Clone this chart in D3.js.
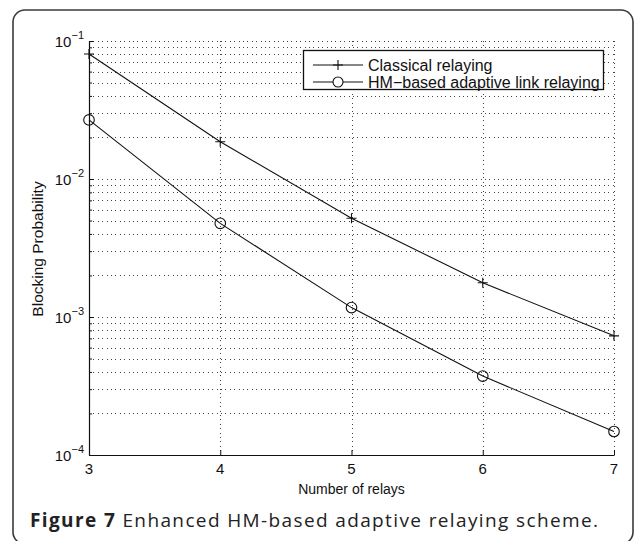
<!DOCTYPE html>
<html>
<head>
<meta charset="utf-8">
<script src="https://cdn.jsdelivr.net/npm/d3@7"></script>
<style>
  body { margin: 0; background: #fff; }
  svg { display: block; }
  text { font-family: "Liberation Sans", Arial, sans-serif; fill: #111; }
</style>
</head>
<body>
<script>
// data
var relays = [3, 4, 5, 6, 7];
var classical = [0.0805, 0.0186, 0.0052, 0.00177, 0.00073];
var hmAdaptive = [0.0268, 0.00477, 0.00117, 0.000373, 0.000148];
var seriesNames = ["Classical relaying", "HM\u2212based adaptive link relaying"];
var yTickExp = [-1, -2, -3, -4];

var width = 635, height = 541;
// plot box
var plotL = 89, plotR = 614, plotT = 41, plotB = 455;

var svg = d3.select("body").append("svg")
  .attr("width", width)
  .attr("height", height);

// rounded frame around the figure
svg.append("rect")
  .attr("x", 13).attr("y", 10)
  .attr("width", 620).attr("height", 534)
  .attr("rx", 12).attr("ry", 12)
  .attr("fill", "none")
  .attr("stroke", "#3a3a3a")
  .attr("stroke-width", 1.6);

var x = d3.scaleLinear().domain([3, 7]).range([plotL, plotR]);
var y = d3.scaleLog().domain([1e-4, 1e-1]).range([plotB, plotT]);

// dotted grid, every log tick and every relay count
var grid = svg.append("g")
  .attr("stroke", "#444")
  .attr("stroke-width", 1)
  .attr("stroke-dasharray", "1,3.4")
  .attr("shape-rendering", "crispEdges");
grid.selectAll("line.h")
  .data(y.ticks())
  .enter().append("line")
  .attr("class", "h")
  .attr("x1", plotL).attr("x2", plotR)
  .attr("y1", function(d) { return Math.round(y(d)) + 0.5; })
  .attr("y2", function(d) { return Math.round(y(d)) + 0.5; });
grid.selectAll("line.v")
  .data(relays)
  .enter().append("line")
  .attr("class", "v")
  .attr("y1", plotT).attr("y2", plotB)
  .attr("x1", function(d) { return Math.round(x(d)) + 0.5; })
  .attr("x2", function(d) { return Math.round(x(d)) + 0.5; });

// axes (left + bottom only, ticks inside like matlab)
function isDecade(d) {
  var l = Math.log10(d);
  return Math.abs(l - Math.round(l)) < 1e-9;
}
var yAxis = svg.append("g")
  .attr("transform", "translate(" + plotL + ",0)")
  .call(d3.axisRight(y).tickValues(y.ticks()).tickFormat("").tickSize(3).tickSizeOuter(0));
yAxis.selectAll(".tick line")
  .attr("x2", function(d) { return isDecade(d) ? 5 : 3; });
var xAxis = svg.append("g")
  .attr("transform", "translate(0," + plotB + ")")
  .call(d3.axisTop(x).tickValues(relays).tickFormat("").tickSize(5).tickSizeOuter(0));
svg.selectAll(".domain").attr("stroke", "#111").attr("stroke-width", 1.2);
svg.selectAll(".tick line").attr("stroke", "#111");

// y tick labels 10^k
var yl = svg.append("g");
yTickExp.forEach(function(k) {
  var t = yl.append("text")
    .attr("x", plotL - 5)
    .attr("y", y(Math.pow(10, k)) + 5.5)
    .attr("text-anchor", "end")
    .style("font-size", "15px");
  t.append("tspan").text("10");
  t.append("tspan")
    .attr("dy", -8)
    .style("font-size", "11px")
    .text("\u2212" + Math.abs(k));
});

// x tick labels
svg.selectAll("text.xt")
  .data(relays)
  .enter().append("text")
  .attr("class", "xt")
  .attr("x", function(d) { return x(d); })
  .attr("y", plotB + 19)
  .attr("text-anchor", "middle")
  .style("font-size", "15px")
  .text(function(d) { return d; });

// axis titles
svg.append("text")
  .attr("x", (plotL + plotR) / 2)
  .attr("y", 494)
  .attr("text-anchor", "middle")
  .style("font-size", "14px")
  .text("Number of relays");
svg.append("text")
  .attr("transform", "translate(43,249) rotate(-90)")
  .attr("text-anchor", "middle")
  .style("font-size", "15.5px")
  .text("Blocking Probability");

// series lines
var line = d3.line()
  .x(function(d) { return x(d[0]); })
  .y(function(d) { return y(d[1]); });
var cData = relays.map(function(r, i) { return [r, classical[i]]; });
var hData = relays.map(function(r, i) { return [r, hmAdaptive[i]]; });

[cData, hData].forEach(function(s) {
  svg.append("path")
    .datum(s)
    .attr("d", line)
    .attr("fill", "none")
    .attr("stroke", "#111")
    .attr("stroke-width", 1.1);
});

// + markers
function plus(g, cx, cy, r) {
  g.append("path")
    .attr("d", "M" + (cx - r) + "," + cy + "H" + (cx + r) + "M" + cx + "," + (cy - r) + "V" + (cy + r))
    .attr("stroke", "#111")
    .attr("stroke-width", 1.1);
}
var marks = svg.append("g");
cData.forEach(function(d) { plus(marks, x(d[0]), y(d[1]), 5); });
marks.selectAll("circle")
  .data(hData)
  .enter().append("circle")
  .attr("cx", function(d) { return x(d[0]); })
  .attr("cy", function(d) { return y(d[1]); })
  .attr("r", 5.3)
  .attr("fill", "none")
  .attr("stroke", "#111")
  .attr("stroke-width", 1.1);

// legend
var lg = svg.append("g");
lg.append("rect")
  .attr("x", 303.5).attr("y", 50.5)
  .attr("width", 300).attr("height", 39)
  .attr("fill", "#fff")
  .attr("stroke", "#111")
  .attr("stroke-width", 1.3);
var rowY = [65, 82];
seriesNames.forEach(function(name, i) {
  lg.append("line")
    .attr("x1", 313).attr("x2", 363)
    .attr("y1", rowY[i]).attr("y2", rowY[i])
    .attr("stroke", "#111")
    .attr("stroke-width", 1.1);
  if (i === 0) plus(lg, 338, rowY[i], 5);
  else lg.append("circle")
    .attr("cx", 338).attr("cy", rowY[i]).attr("r", 5)
    .attr("fill", "#fff").attr("stroke", "#111").attr("stroke-width", 1.1);
  lg.append("text")
    .attr("x", 368)
    .attr("y", rowY[i] + 5.5)
    .style("font-size", "16px")
    .text(name);
});

// caption, sized so it spans the same width as the original
var cap = svg.append("text")
  .attr("x", 30)
  .attr("y", 527)
  .style("font-family", "'Open Sans', sans-serif")
  .style("font-size", "16px")
  .style("fill", "#222");
cap.append("tspan").style("font-weight", "bold").text("Figure 7");
cap.append("tspan").text(" Enhanced HM-based adaptive relaying scheme.");
var capLen = cap.node().getComputedTextLength();
var capSize = Math.min(19, 16 * 568 / capLen);
cap.style("font-size", capSize + "px");
capLen = cap.node().getComputedTextLength();
if (Math.abs(capLen - 568) > 4) cap.attr("textLength", 568).attr("lengthAdjust", "spacing");
</script>
</body>
</html>
